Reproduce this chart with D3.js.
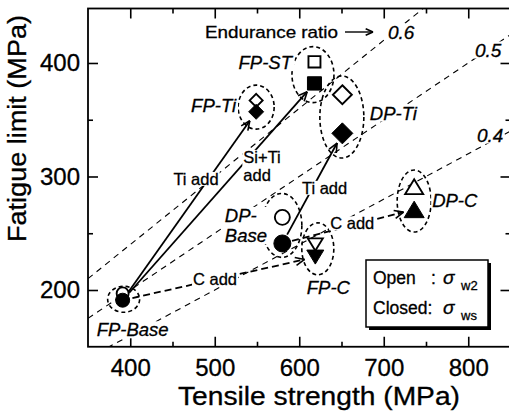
<!DOCTYPE html>
<html><head><meta charset="utf-8">
<script src="https://cdn.jsdelivr.net/npm/d3@7"></script>
<style>
html,body{margin:0;padding:0;background:#fff;}
svg{display:block;font-family:"Liberation Sans",Arial,Helvetica,sans-serif;}
svg text{fill:#000;stroke:#000;stroke-width:0.3px;}
</style></head>
<body><svg id="c" width="509" height="415"></svg>
<script>
// ---- data ----
const steels   = ["FP-Base","FP-Ti","FP-ST","DP-Base","DP-Ti","FP-C","DP-C"];
const tensile  = [391, 549, 618, 580, 651, 619, 736];      // MPa
const sigmaW2  = [197, 367, 401, 264, 372, 240, 291];      // open markers
const sigmaWS  = [191, 357, 382, 241, 338, 229, 271];      // closed markers
const ratios   = [0.6, 0.5, 0.4];
const xTicks   = [400, 500, 600, 700, 800];
const xMinor   = [450, 550, 650, 750, 850];
const yTicks   = [200, 300, 400];
const yMinor   = [250, 350];
const arrowFrom  = ["FP-Base","FP-Base","DP-Base","FP-Base","DP-Base"];
const arrowTo    = ["FP-Ti","FP-ST","DP-Ti","FP-C","DP-C"];
const arrowLabel = [["Ti add"],["Si+Ti","add"],["Ti add"],["C add"],["C add"]];
const arrowDash  = [false,false,false,true,true];

// ---- styles ----
const shape = {"FP-Base":["circle",7],"DP-Base":["circle",8.5],"FP-Ti":["diamond",7.5],
  "DP-Ti":["diamond",10.5],"FP-ST":["square",7],"FP-C":["down",8.5],"DP-C":["up",10]};
const ell = {"FP-Base":[1,2.5,16,13],"FP-Ti":[0,1,18,22],"FP-ST":[-1.5,2,21,28],
  "DP-Ti":[-0.5,3,22,41],"DP-Base":[-0.5,-5,20,32],"FP-C":[2.5,-2,16,26],"DP-C":[0,3,17,31]};
const lab = {"FP-Base":[["FP-Base"],"start",-27,37],"FP-Ti":[["FP-Ti"],"end",-20,4.5],
  "FP-ST":[["FP-ST"],"end",-21,-5.5],"DP-Ti":[["DP-Ti"],"start",28,2.5],
  "DP-Base":[["DP-","Base"],"start",-57,-3.5],"FP-C":[["FP-C"],"start",-11,45.5],
  "DP-C":[["DP-C"],"start",18,5.5]};
const arrowLab = [[0.66,-12.5,0,"middle"],[0.63,2,0,"start"],[0.51,12,0,"middle"],[0.48,0,0,"middle"],[0.54,0,-2,"middle"]];

const svg = d3.select("#c");
const x = d3.scaleLinear().domain([350,850]).range([88,510.5]);
const y = d3.scaleLinear().domain([150,448]).range([346.75,8.5]);
const L=x.range()[0], R=x.range()[1], T=y.range()[1], B=y.range()[0];

svg.append("defs").append("clipPath").attr("id","pc").append("rect")
  .attr("x",L).attr("y",T).attr("width",R-L).attr("height",B-T);

// endurance ratio lines
const gR = svg.append("g").attr("clip-path","url(#pc)");
ratios.forEach(r=>{
  gR.append("line").attr("x1",x(350)).attr("y1",y(350*r)).attr("x2",x(850)).attr("y2",y(850*r))
    .attr("stroke","#000").attr("stroke-width",1.1).attr("stroke-dasharray","6,5");
});

// axes
function styleAxis(g){ g.select(".domain").remove(); g.selectAll("line").attr("stroke","#000").attr("stroke-width",1.6);
  g.selectAll("text").attr("fill","#000").style("font-size","24px").style("font-family","'Liberation Sans',Arial,sans-serif"); }
svg.append("g").attr("transform",`translate(0,${B})`).call(d3.axisBottom(x).tickValues(xTicks).tickSize(-10).tickPadding(12).tickFormat(d3.format("d"))).call(styleAxis);
svg.append("g").attr("transform",`translate(0,${B})`).call(d3.axisBottom(x).tickValues(xMinor).tickSize(-5).tickFormat("")).call(styleAxis);
svg.append("g").attr("transform",`translate(0,${T})`).call(d3.axisTop(x).tickValues(xTicks).tickSize(-10).tickFormat("")).call(styleAxis);
svg.append("g").attr("transform",`translate(0,${T})`).call(d3.axisTop(x).tickValues(xMinor).tickSize(-5).tickFormat("")).call(styleAxis);
svg.append("g").attr("transform",`translate(${L},0)`).call(d3.axisLeft(y).tickValues(yTicks).tickSize(-10).tickPadding(8).tickFormat(d3.format("d"))).call(styleAxis);
svg.append("g").attr("transform",`translate(${L},0)`).call(d3.axisLeft(y).tickValues(yMinor).tickSize(-5).tickFormat("")).call(styleAxis);
svg.append("g").attr("transform",`translate(${R},0)`).call(d3.axisRight(y).tickValues(yTicks).tickSize(-10).tickFormat("")).call(styleAxis);
svg.append("g").attr("transform",`translate(${R},0)`).call(d3.axisRight(y).tickValues(yMinor).tickSize(-5).tickFormat("")).call(styleAxis);
svg.append("rect").attr("x",L).attr("y",T).attr("width",R-L).attr("height",B-T)
  .attr("fill","none").attr("stroke","#000").attr("stroke-width",1.8);

// axis titles
svg.append("text").attr("x",178).attr("y",405).attr("textLength",282).attr("lengthAdjust","spacingAndGlyphs")
  .style("font-size","25px").text("Tensile strength (MPa)");
svg.append("text").attr("transform","translate(26,242) rotate(-90)").attr("textLength",227).attr("lengthAdjust","spacingAndGlyphs")
  .style("font-size","25px").text("Fatigue limit (MPa)");

// helpers
const idx = n => steels.indexOf(n);
function px(n, open){ const i=idx(n); return [x(tensile[i]), y(open?sigmaW2[i]:sigmaWS[i])]; }
function markerPath(type,s,cx,cy){
  const p=d3.path();
  if(type==="diamond"){p.moveTo(cx,cy-s);p.lineTo(cx+s,cy);p.lineTo(cx,cy+s);p.lineTo(cx-s,cy);p.closePath();}
  if(type==="square"){p.rect(cx-s,cy-s*0.95,2*s,1.9*s);}
  if(type==="down"){const h=s*1.65;p.moveTo(cx-s,cy-h/2);p.lineTo(cx+s,cy-h/2);p.lineTo(cx,cy+h/2);p.closePath();}
  if(type==="up"){const h=s*1.65;p.moveTo(cx-s,cy+h/2);p.lineTo(cx+s,cy+h/2);p.lineTo(cx,cy-h/2);p.closePath();}
  return p.toString();
}
function arrowHead(g,x2,y2,ang,len){
  [-0.42,0.42].forEach(a=>{
    g.append("line").attr("x1",x2).attr("y1",y2)
      .attr("x2",x2-len*Math.cos(ang+a)).attr("y2",y2-len*Math.sin(ang+a))
      .attr("stroke","#000").attr("stroke-width",1.6);
  });
}

// ellipses
steels.forEach(n=>{
  const a=px(n,true), b=px(n,false), e=ell[n];
  svg.append("ellipse").attr("cx",(a[0]+b[0])/2+e[0]).attr("cy",(a[1]+b[1])/2+e[1]).attr("rx",e[2]).attr("ry",e[3])
    .attr("fill","none").attr("stroke","#000").attr("stroke-width",1.6).attr("stroke-dasharray","4,3");
});

// arrows
const labelLayer=[];
arrowFrom.forEach((f,k)=>{
  const s=px(f,false), t=px(arrowTo[k],false);
  const dx=t[0]-s[0], dy=t[1]-s[1], len=Math.hypot(dx,dy), ux=dx/len, uy=dy/len;
  const x1=s[0]+ux*10, y1=s[1]+uy*10, x2=t[0]-ux*11, y2=t[1]-uy*11;
  const g=svg.append("g");
  g.append("line").attr("x1",x1).attr("y1",y1).attr("x2",x2).attr("y2",y2).attr("stroke","#000")
    .attr("stroke-width",1.8).attr("stroke-dasharray",arrowDash[k]?"7,4":null);
  arrowHead(g,x2,y2,Math.atan2(uy,ux),10);
  const al=arrowLab[k];
  labelLayer.push({lines:arrowLabel[k], x:x1+(x2-x1)*al[0]+al[1], y:y1+(y2-y1)*al[0]+al[2], anchor:al[3], size:16.5, italic:false, center:true});
});

// markers
steels.forEach(n=>{
  const [type,s]=shape[n];
  [true,false].forEach(open=>{
    const [cx,cy]=px(n,open);
    let el;
    if(type==="circle") el=svg.append("circle").attr("cx",cx).attr("cy",cy).attr("r",s-(open?1:0));
    else el=svg.append("path").attr("d",markerPath(type,open?s-1:s,cx,cy));
    el.attr("fill",open?"#fff":"#000").attr("stroke","#000").attr("stroke-width",open?1.9:1);
  });
});

// group labels
steels.forEach(n=>{
  const a=px(n,true), b=px(n,false), e=ell[n], l=lab[n];
  const cx=(a[0]+b[0])/2+e[0], cy=(a[1]+b[1])/2+e[1];
  labelLayer.push({lines:l[0], x:cx+l[2], y:cy+l[3], anchor:l[1], size:18.5, italic:true, center:false});
});

// ratio labels
const ratioPos=[[388,38.5],[475,56.5],[477,141.5]];
ratios.forEach((r,i)=>labelLayer.push({lines:[String(r)],x:ratioPos[i][0],y:ratioPos[i][1],anchor:"start",size:19,italic:true,center:false}));

// draw labels with white background
labelLayer.forEach(o=>{
  const g=svg.append("g");
  const lh=o.size*1.1;
  o.lines.forEach((t,j)=>{
    const yy = o.center ? o.y - (o.lines.length-1)*lh/2 + j*lh + o.size*0.36 : o.y + j*(o.size*1.1);
    g.append("text").attr("x",o.x).attr("y",yy).attr("text-anchor",o.anchor)
      .style("font-size",o.size+"px").style("font-style",o.italic?"italic":"normal").text(t);
  });
  const bb=g.node().getBBox();
  g.insert("rect","text").attr("x",bb.x-1).attr("y",bb.y+2).attr("width",bb.width+2).attr("height",bb.height-4).attr("fill","#fff");
});

// endurance ratio annotation
const er=svg.append("g");
er.append("rect").attr("x",203).attr("y",22).attr("width",137).attr("height",20).attr("fill","#fff");
er.append("text").attr("x",205).attr("y",38).attr("textLength",133).attr("lengthAdjust","spacingAndGlyphs")
  .style("font-size","17px").text("Endurance ratio");
er.append("line").attr("x1",345).attr("y1",32).attr("x2",373).attr("y2",32).attr("stroke","#000").attr("stroke-width",1.4);
arrowHead(er,373,32,0,8);

// legend
const lg=svg.append("g");
lg.append("rect").attr("x",369).attr("y",263).attr("width",122).attr("height",67).attr("fill","#000");
lg.append("rect").attr("x",366).attr("y",260).attr("width",122).attr("height",67).attr("fill","#fff").attr("stroke","#000").attr("stroke-width",1.5);
[["Open",":","w2",284],["Closed:","","ws",314]].forEach(r=>{
  lg.append("text").attr("x",373).attr("y",r[3]).style("font-size","17.5px").text(r[0]);
  if(r[1]) lg.append("text").attr("x",431).attr("y",r[3]).style("font-size","17.5px").text(r[1]);
  lg.append("text").attr("x",443).attr("y",r[3]).style("font-size","19px").style("font-style","italic").text("σ");
  lg.append("text").attr("x",461).attr("y",r[3]+6).style("font-size","13px").text(r[2]);
});
</script></body></html>
